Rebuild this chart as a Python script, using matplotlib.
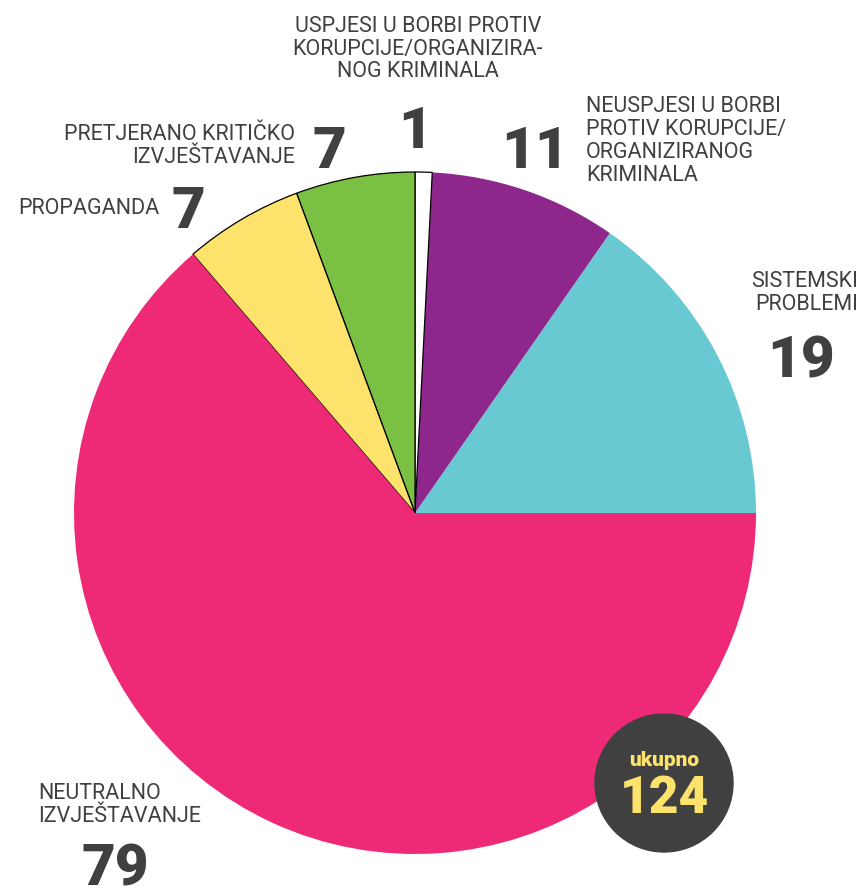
import numpy as np
import matplotlib.pyplot as plt
from matplotlib.patches import Circle

# podaci
labels = ['SISTEMSKI\nPROBLEMI',
          'NEUSPJESI U BORBI\nPROTIV KORUPCIJE/\nORGANIZIRANOG\nKRIMINALA',
          'USPJESI U BORBI PROTIV\nKORUPCIJE/ORGANIZIRA-\nNOG KRIMINALA',
          'PRETJERANO KRITIČKO\nIZVJEŠTAVANJE',
          'PROPAGANDA',
          'NEUTRALNO\nIZVJEŠTAVANJE']
values = [19, 11, 1, 7, 7, 79]
colors = ['#68c9d2', '#8e278b', '#ffffff', '#7ac143', '#fde36b', '#ee2a77']
edges = ['none', 'none', 'black', 'black', 'black', 'none']
total = sum(values)

W, H = 861, 891
txt = '#404041'
plt.rcParams['font.family'] = ['Roboto', 'DejaVu Sans']

fig = plt.figure(figsize=(W / 100, H / 100), dpi=100)
ax = fig.add_axes([0, 0, 1, 1])

def Y(py):
    return H - py

wedges, _ = ax.pie(values, colors=colors, startangle=0, counterclock=True,
                   center=(415, Y(513)), radius=341, frame=True)
for w, ec in zip(wedges, edges):
    if ec != 'none':
        w.set_edgecolor(ec)
        w.set_linewidth(0.9)
ax.set_xlim(0, W)
ax.set_ylim(0, H)
ax.set_aspect('equal')
ax.axis('off')

lab_fs = 15.5
num_fs = 42
lab = dict(color=txt, fontsize=lab_fs, fontweight='normal', linespacing=1.12)
num = dict(color=txt, fontsize=num_fs, fontweight='black', ha='center', va='baseline')

# sistemski problemi
ax.text(858, Y(293), labels[0], ha='right', va='center', multialignment='right', **lab)
ax.text(801, Y(378), str(values[0]), **num)
# neuspjesi
ax.text(586, Y(141), labels[1], ha='left', va='center', **lab)
ax.text(535, Y(168), str(values[1]), **num)
# uspjesi
ax.text(418, Y(49), labels[2], ha='center', va='center', multialignment='center', **lab)
ax.text(415, Y(148), str(values[2]), **num)
# pretjerano kriticko
ax.text(295, Y(146), labels[3], ha='right', va='center', multialignment='right', **lab)
ax.text(329, Y(168), str(values[3]), **num)
# propaganda
ax.text(160, Y(209), labels[4], ha='right', va='center', **lab)
ax.text(188, Y(228), str(values[4]), **num)
# neutralno
ax.text(38, Y(805), labels[5], ha='left', va='center', **lab)
ax.text(115, Y(885), str(values[5]), **num)

# ukupno
ax.add_patch(Circle((664, Y(783)), 69, color='#404041', zorder=5))
ax.text(664, Y(760), 'ukupno', color='#fde36b', fontsize=15, fontweight='black',
        ha='center', va='center', zorder=6)
ax.text(664, Y(813), str(total), color='#fde36b', fontsize=37, fontweight='black',
        ha='center', va='baseline', zorder=6)

fig.savefig('out.png', dpi=100, facecolor='white')
